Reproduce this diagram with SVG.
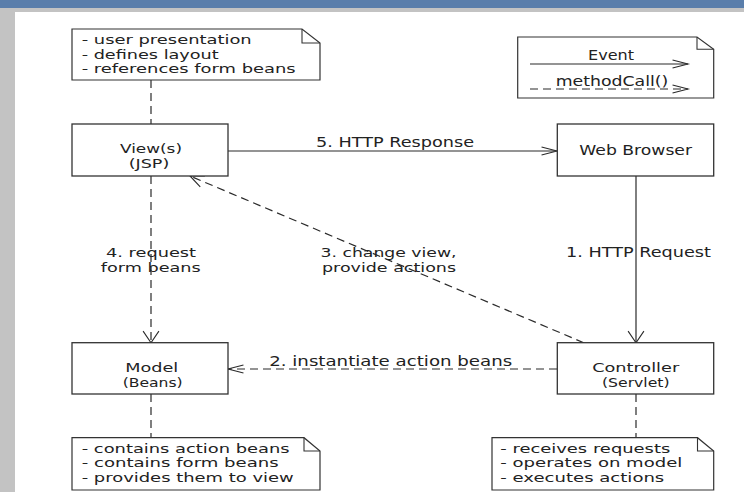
<svg xmlns="http://www.w3.org/2000/svg" width="744" height="492" viewBox="0 0 744 492">
<style>
  .frame { fill: #ffffff; }
  .box { fill: #ffffff; stroke: #333333; stroke-width: 1.3; }
  .note { fill: #ffffff; stroke: #333333; stroke-width: 1.2; }
  .fold { fill: none; stroke: #333333; stroke-width: 1.1; }
  .t { font-family: "DejaVu Sans", "Liberation Sans", sans-serif; font-size: 13.5px; fill: #222222; }
  .n { font-size: 12.5px; }
  .c { text-anchor: middle; }
  .solid { fill: none; stroke: #2a2a2a; stroke-width: 1.2; }
  .dash { fill: none; stroke: #2a2a2a; stroke-width: 1.2; stroke-dasharray: 8 5; }
  .head { fill: none; stroke: #2a2a2a; stroke-width: 1.2; stroke-dasharray: none; }
</style>
<defs>
  <marker id="ahh" markerUnits="userSpaceOnUse" orient="auto" refX="0" refY="0" markerWidth="20" markerHeight="20" viewBox="-20 -10 22 20" overflow="visible">
    <path class="head" d="M-17,-4.5 L0,0 L-17,4.5"/>
  </marker>
  <marker id="ahv" markerUnits="userSpaceOnUse" orient="auto" refX="0" refY="0" markerWidth="20" markerHeight="20" viewBox="-20 -10 22 20" overflow="visible">
    <path class="head" d="M-12.7,-8.7 L0,0 L-12.7,8.7"/>
  </marker>
  <marker id="ahd" markerUnits="userSpaceOnUse" orient="auto" refX="0" refY="0" markerWidth="20" markerHeight="20" viewBox="-20 -10 22 20" overflow="visible">
    <path class="head" d="M-15,-6.5 L0,0 L-15,6.5"/>
  </marker>
</defs>

<!-- window chrome -->
<rect x="0" y="0" width="744" height="492" fill="#c3c3c3"/>
<rect x="0" y="0" width="744" height="8" fill="#5a7eab"/>
<rect class="frame" x="15" y="12" width="729" height="480"/>

<!-- connectors -->
<g id="connectors">
  <line class="dash" x1="151" y1="80" x2="151" y2="124"/>
  <line class="dash" x1="151" y1="394" x2="151" y2="437.7"/>
  <line class="dash" x1="636" y1="394" x2="636" y2="437.7"/>
  <line class="solid" x1="228" y1="151" x2="557" y2="151" marker-end="url(#ahh)"/>
  <line class="solid" x1="636" y1="176" x2="636" y2="342.7" marker-end="url(#ahv)"/>
  <line class="dash" x1="557" y1="369" x2="228" y2="369" marker-end="url(#ahh)"/>
  <line class="dash" x1="583.7" y1="342.7" x2="190" y2="176" marker-end="url(#ahd)"/>
  <line class="dash" x1="151" y1="176" x2="151" y2="342.7" marker-end="url(#ahv)"/>
  <text class="t c" x="395" y="147" textLength="158" lengthAdjust="spacingAndGlyphs">5. HTTP Response</text>
  <text class="t c" x="638.5" y="257" textLength="145" lengthAdjust="spacingAndGlyphs">1. HTTP Request</text>
  <text class="t c" x="390.7" y="366" textLength="243" lengthAdjust="spacingAndGlyphs">2. instantiate action beans</text>
  <text class="t n c" x="388.5" y="256.7" textLength="136" lengthAdjust="spacingAndGlyphs">3. change view,</text>
  <text class="t n c" x="389" y="271.5" textLength="134" lengthAdjust="spacingAndGlyphs">provide actions</text>
  <text class="t n c" x="151" y="256.7" textLength="90" lengthAdjust="spacingAndGlyphs">4. request</text>
  <text class="t n c" x="150.7" y="271.5" textLength="100" lengthAdjust="spacingAndGlyphs">form beans</text>
</g>

<!-- notes -->
<g id="note-view">
  <path class="note" d="M72,29 H302 L320,43 V80 H72 Z"/>
  <path class="fold" d="M302,29 V43 H320"/>
  <text class="t n" x="81.7" y="44" textLength="170" lengthAdjust="spacingAndGlyphs">- user presentation</text>
  <text class="t n" x="81.7" y="58.7" textLength="137" lengthAdjust="spacingAndGlyphs">- defines layout</text>
  <text class="t n" x="81.7" y="73.4" textLength="214" lengthAdjust="spacingAndGlyphs">- references form beans</text>
</g>

<g id="legend">
  <path class="note" d="M517.7,37 H697 L713.7,49.3 V98 H517.7 Z"/>
  <path class="fold" d="M697,37 V49.3 H713.7"/>
  <text class="t c" x="611" y="60" textLength="46" lengthAdjust="spacingAndGlyphs">Event</text>
  <line class="solid" x1="530" y1="64" x2="688" y2="64" marker-end="url(#ahh)"/>
  <text class="t c" x="612" y="86" textLength="112.7" lengthAdjust="spacingAndGlyphs">methodCall()</text>
  <line class="dash" x1="530" y1="89" x2="688" y2="89" marker-end="url(#ahh)"/>
</g>

<g id="note-model">
  <path class="note" d="M72,437.7 H304 L320,451 V490 H72 Z"/>
  <path class="fold" d="M304,437.7 V451 H320"/>
  <text class="t n" x="81.7" y="452.7" textLength="208" lengthAdjust="spacingAndGlyphs">- contains action beans</text>
  <text class="t n" x="81.7" y="467.4" textLength="197" lengthAdjust="spacingAndGlyphs">- contains form beans</text>
  <text class="t n" x="81.7" y="482.1" textLength="212" lengthAdjust="spacingAndGlyphs">- provides them to view</text>
</g>

<g id="note-controller">
  <path class="note" d="M492,437.7 H697.5 L713.7,451 V490 H492 Z"/>
  <path class="fold" d="M697.5,437.7 V451 H713.7"/>
  <text class="t n" x="500.3" y="452.7" textLength="170" lengthAdjust="spacingAndGlyphs">- receives requests</text>
  <text class="t n" x="500.3" y="467.4" textLength="182" lengthAdjust="spacingAndGlyphs">- operates on model</text>
  <text class="t n" x="500.3" y="482.1" textLength="164" lengthAdjust="spacingAndGlyphs">- executes actions</text>
</g>

<!-- nodes -->
<g id="view">
  <rect class="box" x="72" y="124" width="156" height="52"/>
  <text class="t n c" x="151" y="153.3" textLength="62" lengthAdjust="spacingAndGlyphs">View(s)</text>
  <text class="t n c" x="149" y="168" textLength="40.6" lengthAdjust="spacingAndGlyphs">(JSP)</text>
</g>

<g id="web-browser">
  <rect class="box" x="557.3" y="124" width="156.4" height="52"/>
  <text class="t c" x="635.7" y="154.5" textLength="112.7" lengthAdjust="spacingAndGlyphs">Web Browser</text>
</g>

<g id="model">
  <rect class="box" x="72" y="342.7" width="156" height="51.3"/>
  <text class="t n c" x="151.7" y="372.3" textLength="53" lengthAdjust="spacingAndGlyphs">Model</text>
  <text class="t n c" x="152.7" y="387" textLength="60" lengthAdjust="spacingAndGlyphs">(Beans)</text>
</g>

<g id="controller">
  <rect class="box" x="557.3" y="342.7" width="156.4" height="51.3"/>
  <text class="t n c" x="635.7" y="372.3" textLength="87" lengthAdjust="spacingAndGlyphs">Controller</text>
  <text class="t n c" x="635.8" y="387" textLength="67.7" lengthAdjust="spacingAndGlyphs">(Servlet)</text>
</g>
</svg>
